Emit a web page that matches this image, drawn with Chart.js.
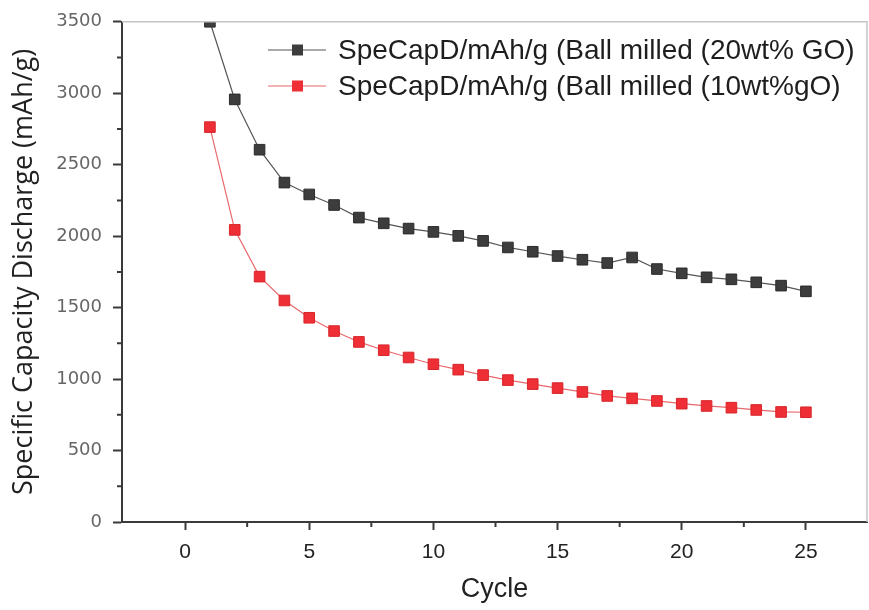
<!DOCTYPE html>
<html>
<head>
<meta charset="utf-8">
<script src="https://cdn.jsdelivr.net/npm/chart.js@4"></script>
<style>
  html, body { margin:0; padding:0; background:#fff; }
  #wrap { width:869px; height:610px; }
</style>
</head>
<body>
<div id="wrap"><canvas id="capChart" width="869" height="610"></canvas></div>
<script>
const cycles = [1,2,3,4,5,6,7,8,9,10,11,12,13,14,15,16,17,18,19,20,21,22,23,24,25];
const capGO20 = [3500,2957,2605,2375,2292,2218,2130,2090,2053,2030,2002,1967,1921,1891,1861,1835,1812,1851,1770,1740,1712,1698,1677,1654,1614];
const capGO10 = [2763,2044,1717,1550,1429,1336,1260,1202,1151,1104,1066,1028,993,965,937,910,882,865,847,828,812,800,784,770,768];
const xMajor = [0,5,10,15,20,25];
const xMinor = [2.5,7.5,12.5,17.5,22.5];
const yMajor = [0,500,1000,1500,2000,2500,3000,3500];
const yMinor = [250,750,1250,1750,2250,2750,3250];
const seriesNames = ['SpeCapD/mAh/g (Ball milled (20wt% GO)', 'SpeCapD/mAh/g (Ball milled (10wt%gO)'];

const BLACK = '#3d3d3d', RED = '#ee2f35';

// minor ticks, frame and legend
const decor = {
  id: 'decor',
  afterDraw(chart) {
    const {ctx, chartArea: a, scales: {x, y}} = chart;
    ctx.save();
    // light frame top/right
    ctx.strokeStyle = '#c4c4c4'; ctx.lineWidth = 1.5;
    ctx.beginPath();
    ctx.moveTo(a.left, a.top); ctx.lineTo(a.right, a.top); ctx.lineTo(a.right, a.bottom);
    ctx.stroke();
    // minor ticks
    ctx.strokeStyle = '#3a3a3a'; ctx.lineWidth = 2;
    ctx.beginPath();
    xMinor.forEach(v => { const px = x.getPixelForValue(v); ctx.moveTo(px, a.bottom); ctx.lineTo(px, a.bottom + 5); });
    yMinor.forEach(v => { const py = y.getPixelForValue(v); ctx.moveTo(a.left, py); ctx.lineTo(a.left - 5, py); });
    ctx.stroke();
    // legend
    const rows = [[seriesNames[0], '#555', BLACK], [seriesNames[1], '#e8686c', RED]];
    ctx.font = '28px "Liberation Sans", Arial, sans-serif';
    ctx.textBaseline = 'middle';
    rows.forEach(([name, line, fill], i) => {
      const ly = 50 + i * 36;
      ctx.strokeStyle = line; ctx.lineWidth = 1.2;
      ctx.beginPath(); ctx.moveTo(268, ly); ctx.lineTo(326, ly); ctx.stroke();
      ctx.fillStyle = fill; ctx.fillRect(292, ly - 5.5, 11, 11);
      ctx.fillStyle = '#1e1e1e';
      ctx.fillText(name, 338, ly + 1);
    });
    ctx.restore();
  }
};

new Chart(document.getElementById('capChart').getContext('2d'), {
  type: 'line',
  data: {
    datasets: [
      { label: seriesNames[0], data: cycles.map((c, i) => ({x: c, y: capGO20[i]})),
        borderColor: '#555', borderWidth: 1.2, pointStyle: 'rect', pointRadius: 7.5,
        pointBackgroundColor: BLACK, pointBorderColor: '#2c2c2c', pointBorderWidth: 1 },
      { label: seriesNames[1], data: cycles.map((c, i) => ({x: c, y: capGO10[i]})),
        borderColor: '#e8686c', borderWidth: 1.2, pointStyle: 'rect', pointRadius: 7.5,
        pointBackgroundColor: RED, pointBorderColor: '#d8262b', pointBorderWidth: 1 }
    ]
  },
  options: {
    responsive: false,
    animation: false,
    layout: { autoPadding: false, padding: { top: 19, right: 2, left: 0, bottom: 0 } },
    plugins: { legend: { display: false }, tooltip: { enabled: false } },
    scales: {
      x: {
        type: 'linear', min: -2.54, max: 27.46,
        afterBuildTicks: s => { s.ticks = xMajor.map(v => ({value: v})); },
        afterFit: s => { s.height = 88; },
        border: { color: '#3a3a3a', width: 2 },
        grid: { drawOnChartArea: false, tickLength: 8, tickColor: '#3a3a3a', tickWidth: 2 },
        ticks: { color: '#222', padding: 10, callback: v => String(v),
                 font: { size: 21, family: '"Liberation Sans", Arial, sans-serif' } },
        title: { display: true, text: 'Cycle', color: '#222', padding: { top: 6 },
                 font: { size: 27, family: '"Liberation Sans", Arial, sans-serif' } }
      },
      y: {
        min: 0, max: 3500,
        afterBuildTicks: s => { s.ticks = yMajor.map(v => ({value: v})); },
        afterFit: s => { s.width = 122; },
        border: { color: '#3a3a3a', width: 2 },
        grid: { drawOnChartArea: false, tickLength: 9, tickColor: '#3a3a3a', tickWidth: 2 },
        ticks: { color: '#666', padding: 11, callback: v => String(v),
                 font: { size: 18, family: '"DejaVu Sans", sans-serif' } },
        title: { display: true, text: 'Specific Capacity Discharge (mAh/g)', color: '#222', padding: { top: 8, bottom: 0 },
                 font: { size: 27, family: '"Open Sans", "Liberation Sans", sans-serif' } }
      }
    }
  },
  plugins: [decor]
});
</script>
</body>
</html>
